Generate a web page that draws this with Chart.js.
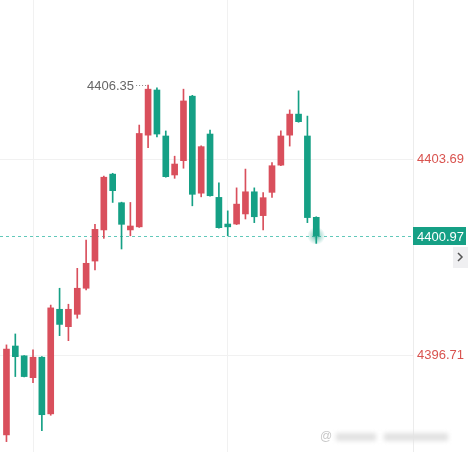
<!DOCTYPE html>
<html>
<head>
<meta charset="utf-8">
<script src="https://cdn.jsdelivr.net/npm/chart.js@4/dist/chart.umd.min.js"></script>
<style>
html,body{margin:0;padding:0;background:#fff;}
#wrap{width:468px;height:452px;position:relative;}
</style>
</head>
<body>
<div id="wrap"><canvas id="c"></canvas></div>
<script>
// Candle index (time slots)
const candleIndex = [0,1,2,3,4,5,6,7,8,9,10,11,12,13,14,15,16,17,18,19,20,21,22,23,24,25,26,27,28,29,30,31,32,33,34,35];
const opens  = [4393.87,4397.04,4396.69,4395.91,4396.64,4394.62,4398.35,4397.73,4398.17,4399.10,4400.07,4401.18,4403.17,4402.15,4401.18,4401.29,4404.56,4406.17,4404.53,4403.14,4403.65,4405.95,4402.49,4404.60,4402.34,4401.39,4401.39,4401.75,4402.54,4401.69,4402.52,4403.49,4404.56,4405.31,4404.53,4401.63];
const highs  = [4397.08,4397.47,4396.70,4396.90,4396.66,4398.50,4399.10,4398.53,4399.81,4400.82,4401.38,4403.10,4403.20,4402.17,4402.16,4404.92,4406.35,4406.25,4404.71,4403.81,4406.20,4405.98,4404.18,4404.74,4402.86,4401.86,4402.68,4403.35,4402.68,4402.51,4403.58,4404.71,4405.46,4406.14,4405.24,4401.65];
const lows   = [4393.63,4395.95,4395.94,4395.73,4394.02,4394.57,4397.41,4397.23,4398.03,4399.04,4399.75,4400.88,4402.16,4400.50,4400.97,4401.27,4404.11,4404.50,4403.06,4403.02,4403.38,4402.04,4402.36,4402.38,4401.24,4400.97,4401.37,4401.57,4401.44,4401.18,4402.34,4403.47,4404.17,4405.02,4401.44,4400.70];
const closes = [4396.93,4396.66,4395.95,4396.64,4394.59,4398.40,4397.81,4398.35,4399.10,4399.99,4401.20,4403.06,4402.58,4401.38,4401.32,4404.62,4406.20,4404.60,4403.08,4403.53,4405.78,4402.45,4404.15,4402.40,4401.26,4401.29,4402.10,4402.54,4401.65,4402.33,4403.47,4404.53,4405.31,4405.04,4401.62,4400.97];
// Price axis tick labels
const priceTicks = [4403.69, 4396.71];
// Vertical time-grid positions (candle slots)
const timeGridSlots = [3, 25];
const lastPrice = 4400.97;

const UP = '#d94f5c';
const DOWN = '#15a085';

const candleColors = opens.map((o, i) => closes[i] >= o ? UP : DOWN);
const wickData = candleIndex.map((x, i) => ({x: x, y: [lows[i], highs[i]]}));
const bodyData = candleIndex.map((x, i) => ({x: x, y: [Math.min(opens[i], closes[i]), Math.max(opens[i], closes[i])]}));

const overlay = {
  id: 'overlay',
  beforeDatasetsDraw(chart) {
    const {ctx, chartArea, scales} = chart;
    const y = Math.round(scales.y.getPixelForValue(lastPrice)) + 0.5;
    ctx.save();
    ctx.strokeStyle = '#62c8ba';
    ctx.lineWidth = 1;
    ctx.setLineDash([3, 3]);
    ctx.beginPath();
    ctx.moveTo(chartArea.left, y);
    ctx.lineTo(chartArea.right, y);
    ctx.stroke();
    ctx.restore();
  },
  afterDraw(chart) {
    const {ctx, chartArea, scales} = chart;
    const xs = scales.x, ys = scales.y;
    ctx.save();
    // glow on last candle
    const li = candleIndex.length - 1;
    const gx = xs.getPixelForValue(candleIndex[li]);
    const gy = ys.getPixelForValue(lastPrice);
    const grad = ctx.createRadialGradient(gx, gy, 0, gx, gy, 9);
    grad.addColorStop(0, 'rgba(21,160,133,0.75)');
    grad.addColorStop(0.5, 'rgba(21,160,133,0.3)');
    grad.addColorStop(1, 'rgba(21,160,133,0)');
    ctx.fillStyle = grad;
    ctx.beginPath();
    ctx.arc(gx, gy, 9, 0, Math.PI * 2);
    ctx.fill();

    // last price label
    const ly = Math.round(gy);
    ctx.fillStyle = '#16a085';
    ctx.fillRect(chartArea.right, ly - 9, 53, 18);
    ctx.fillStyle = '#ffffff';
    ctx.font = '13px "Liberation Sans", Arial, sans-serif';
    ctx.textAlign = 'left';
    ctx.textBaseline = 'middle';
    ctx.fillText(lastPrice.toFixed(2), chartArea.right + 4, ly + 1);

    // chevron box
    ctx.fillStyle = '#efeff1';
    ctx.fillRect(453, ly + 11, 15, 21);
    ctx.strokeStyle = '#555';
    ctx.lineWidth = 1.5;
    ctx.beginPath();
    ctx.moveTo(458, ly + 17);
    ctx.lineTo(462, ly + 21);
    ctx.lineTo(458, ly + 25);
    ctx.stroke();

    // highest price marker
    let hi = 0;
    highs.forEach((h, i) => { if (h > highs[hi]) hi = i; });
    const hx = xs.getPixelForValue(candleIndex[hi]);
    const hy = Math.round(ys.getPixelForValue(highs[hi])) + 0.5;
    ctx.strokeStyle = '#888';
    ctx.lineWidth = 1;
    ctx.setLineDash([1, 2]);
    ctx.beginPath();
    ctx.moveTo(hx - 12, hy);
    ctx.lineTo(hx - 1, hy);
    ctx.stroke();
    ctx.setLineDash([]);
    ctx.fillStyle = '#666';
    ctx.font = '13px "Liberation Sans", Arial, sans-serif';
    ctx.textAlign = 'right';
    ctx.fillText(highs[hi].toFixed(2), hx - 14, hy + 1);

    // watermark
    ctx.fillStyle = '#c8c8c8';
    ctx.font = '12px "Liberation Sans", Arial, sans-serif';
    ctx.textAlign = 'left';
    ctx.fillText('@', 320, 437);
    ctx.filter = 'blur(2px)';
    ctx.fillStyle = '#e2e2e2';
    ctx.fillRect(336, 433, 40, 8);
    ctx.fillRect(384, 433, 64, 8);
    ctx.filter = 'none';
    ctx.restore();
  }
};

new Chart(document.getElementById('c'), {
  type: 'bar',
  data: {
    datasets: [
      {
        label: 'wick',
        data: wickData,
        backgroundColor: candleColors,
        barThickness: 1,
        borderWidth: 0,
        grouped: false,
        order: 2
      },
      {
        label: 'body',
        data: bodyData,
        backgroundColor: candleColors,
        barThickness: 6,
        borderWidth: 0,
        minBarLength: 1,
        grouped: false,
        order: 1
      }
    ]
  },
  options: {
    responsive: true,
    maintainAspectRatio: false,
    animation: false,
    devicePixelRatio: 1,
    layout: {padding: 0},
    plugins: {legend: {display: false}, tooltip: {enabled: false}},
    scales: {
      x: {
        type: 'linear',
        min: -0.73,
        max: 45.93,
        offset: false,
        afterBuildTicks: (s) => { s.ticks = timeGridSlots.map(v => ({value: v})); },
        afterFit: (s) => { s.height = 0; s.paddingLeft = 0; s.paddingRight = 0; s.paddingTop = 0; s.paddingBottom = 0; },
        ticks: {display: false},
        grid: {color: '#f1f1f1', drawTicks: false, offset: false},
        border: {display: false}
      },
      y: {
        position: 'right',
        min: 4393.26,
        max: 4409.38,
        afterBuildTicks: (s) => { s.ticks = priceTicks.map(v => ({value: v})); },
        afterFit: (s) => { s.width = 55; s.paddingTop = 0; s.paddingBottom = 0; },
        ticks: {
          color: '#d9534f',
          padding: 4,
          font: {size: 13, family: '"Liberation Sans", Arial, sans-serif'},
          callback: (v) => Number(v).toFixed(2)
        },
        grid: {color: '#f1f1f1', drawTicks: false},
        border: {display: true, color: '#ececec'}
      }
    }
  },
  plugins: [overlay]
});
</script>
</body>
</html>
